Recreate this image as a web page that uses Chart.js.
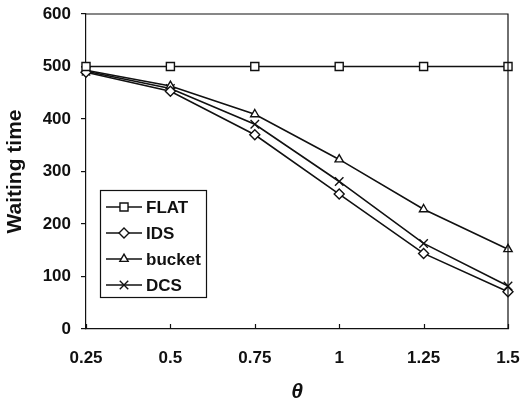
<!DOCTYPE html>
<html>
<head>
<meta charset="utf-8">
<script src="https://cdn.jsdelivr.net/npm/chart.js"></script>
<style>
html,body{margin:0;padding:0;background:#fff;}
#wrap{width:520px;height:403px;position:relative;}
</style>
</head>
<body>
<div id="wrap"><canvas id="c" width="520" height="403"></canvas></div>
<script>
const categories = ['0.25', '0.5', '0.75', '1', '1.25', '1.5'];
const flatValues = [500, 500, 500, 500, 500, 500];
const idsValues = [489, 453, 370, 257, 144, 71];
const bucketValues = [493, 463, 409, 323, 228, 152];
const dcsValues = [491, 458, 390, 281, 163, 82];
const yTicks = [0, 100, 200, 300, 400, 500, 600];
const seriesNames = ['FLAT', 'IDS', 'bucket', 'DCS'];

const FONT = 'Liberation Sans, Arial, sans-serif';
const INK = '#111';

function ds(label, data, style, r) {
  return {
    label, data,
    borderColor: INK, borderWidth: 1.6,
    pointStyle: style, pointRadius: r, pointHoverRadius: r,
    pointBorderColor: INK, pointBackgroundColor: '#fff', pointBorderWidth: 1.4,
    fill: false, tension: 0
  };
}

const framePlugin = {
  id: 'frame',
  afterDatasetsDraw(chart) {
    const {ctx, chartArea: a, scales: {x}} = chart;
    ctx.save();
    ctx.strokeStyle = INK;
    ctx.lineWidth = 1.2;
    ctx.beginPath();
    ctx.moveTo(a.left, a.top); ctx.lineTo(a.right, a.top); ctx.lineTo(a.right, a.bottom);
    ctx.stroke();
    // inward x tick marks
    ctx.beginPath();
    categories.forEach((c, i) => {
      const px = Math.round(x.getPixelForValue(i)) + 0.5;
      ctx.moveTo(px, a.bottom); ctx.lineTo(px, a.bottom - 5);
    });
    ctx.stroke();
    ctx.restore();
  },
  afterDraw(chart) {
    const {ctx} = chart;
    const box = {left: 100, top: 190, right: 206, bottom: 297};
    ctx.save();
    ctx.fillStyle = '#fff';
    ctx.fillRect(box.left, box.top, box.right - box.left, box.bottom - box.top);
    ctx.strokeStyle = INK; ctx.lineWidth = 1.2;
    ctx.strokeRect(box.left + 0.5, box.top + 0.5, box.right - box.left, box.bottom - box.top);
    ctx.font = 'bold 17px ' + FONT;
    ctx.textBaseline = 'middle';
    ctx.fillStyle = INK;
    chart.data.datasets.forEach((d, i) => {
      const y = 207 + i * 26;
      ctx.strokeStyle = INK; ctx.lineWidth = 1.6;
      ctx.beginPath(); ctx.moveTo(106, y); ctx.lineTo(142, y); ctx.stroke();
      ctx.lineWidth = 1.4;
      ctx.fillStyle = '#fff';
      Chart.helpers.drawPoint(ctx, {pointStyle: d.pointStyle, radius: d.pointRadius, borderWidth: 1.4}, 124, y);
      ctx.fillStyle = INK;
      ctx.fillText(d.label, 146, y + 1);
    });
    ctx.restore();
  }
};

new Chart(document.getElementById('c'), {
  type: 'line',
  data: {
    labels: categories,
    datasets: [
      ds(seriesNames[0], flatValues, 'rect', 5.7),
      ds(seriesNames[1], idsValues, 'rectRot', 5),
      ds(seriesNames[2], bucketValues, 'triangle', 4.8),
      ds(seriesNames[3], dcsValues, 'crossRot', 6)
    ]
  },
  options: {
    responsive: false,
    animation: false,
    events: [],
    layout: {padding: {left: 0, right: 12, top: 14, bottom: 0}},
    plugins: {legend: {display: false}, tooltip: {enabled: false}},
    scales: {
      x: {
        type: 'category', offset: false,
        grid: {display: false, drawTicks: false},
        border: {display: true, color: INK, width: 1.2},
        ticks: {color: INK, font: {family: FONT, size: 17, weight: 'bold'}, padding: 19, maxRotation: 0, autoSkip: false},
        title: {display: true, text: 'θ', color: INK, font: {family: FONT, size: 21, style: 'italic', weight: 'bold', lineHeight: 1}, padding: {top: 0, bottom: 0}},
        afterFit(s) { s.height = 74; s.paddingLeft = 0; s.paddingRight = 0; }
      },
      y: {
        min: 0, max: 600,
        afterBuildTicks(s) { s.ticks = yTicks.map(v => ({value: v})); },
        grid: {display: true, drawOnChartArea: false, drawTicks: true, tickLength: 5, color: INK, lineWidth: 1.2},
        border: {display: true, color: INK, width: 1.2},
        ticks: {color: INK, font: {family: FONT, size: 17, weight: 'bold'}, padding: 10},
        title: {display: true, text: 'Waiting time', color: INK, font: {family: FONT, size: 21, weight: 'bold'}, padding: {top: 3, bottom: 0}},
        afterFit(s) { s.width = 86; s.paddingTop = 0; s.paddingBottom = 0; }
      }
    }
  },
  plugins: [framePlugin]
});
</script>
</body>
</html>
